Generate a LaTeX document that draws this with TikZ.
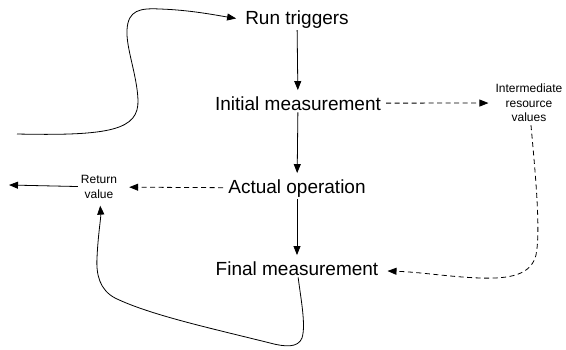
\documentclass[tikz,border=0pt]{standalone}
\usepackage{fontspec}
\setmainfont{Liberation Sans}
\usepackage{tikz}
\usetikzlibrary{arrows.meta, positioning, calc}
\tikzset{
  stage/.style={inner xsep=5pt, inner ysep=2pt, anchor=base,
                font=\fontsize{19}{22}\selectfont},
  note/.style={inner sep=3pt, align=center,
               font=\fontsize{12}{14.5}\selectfont},
  flow/.style={-{Triangle[length=9pt,width=7pt]}, line width=0.8pt,
               shorten >=4pt},
  dflow/.style={flow, dash pattern=on 5pt off 3.5pt},
}

\begin{document}
\begin{tikzpicture}[x=1pt, y=-1pt]
  \useasboundingbox (0,0) rectangle (566,349);

  % Stages
  \node[stage] (run)     at (297,24)  {Run triggers};
  \node[stage] (initial) at (298,110) {Initial measurement};
  \node[stage] (actual)  at (297,193) {Actual operation};
  \node[stage] (final)   at (297,275) {Final measurement};

  % Side notes
  \node[note] (interm) at (529,103) {Intermediate\\resource\\values};
  \node[note] (retval) at (99,187)  {Return\\value};

  \coordinate (entry) at (17,134);
  \coordinate (exit)  at (9,185);

  % Main chain
  \draw[flow] (run) -- (initial);
  \draw[flow] (initial) -- (actual);
  \draw[flow] (actual) -- (final);

  % Resource values
  \draw[dflow] (initial) -- (interm);
  \draw[dflow] (interm) .. controls (535,170) and (541,230) .. (536,255)
    .. controls (531,275) and (510,279) .. (480,278)
    .. controls (450,277) and (420,272) .. (final);

  % Result
  \draw[dflow, shorten >=9pt] (actual) -- (retval);
  \draw[flow, shorten >=0pt] (retval) -- (exit);

  % Incoming call
  \draw[flow] (entry) .. controls (110,136) and (139,130) .. (138,100)
    .. controls (137,75) and (126,48) .. (127,30)
    .. controls (128,10) and (140,8) .. (160,9)
    .. controls (190,10) and (215,15) .. (run.west);

  % Back to the caller
  \draw[flow] (final) .. controls (301,300) and (306,325) .. (302,338)
    .. controls (298,348) and (285,347) .. (270,343)
    .. controls (210,328) and (150,315) .. (115,298)
    .. controls (100,290) and (96,275) .. (97,258)
    .. controls (98,235) and (101,218) .. (retval);
\end{tikzpicture}
\end{document}
